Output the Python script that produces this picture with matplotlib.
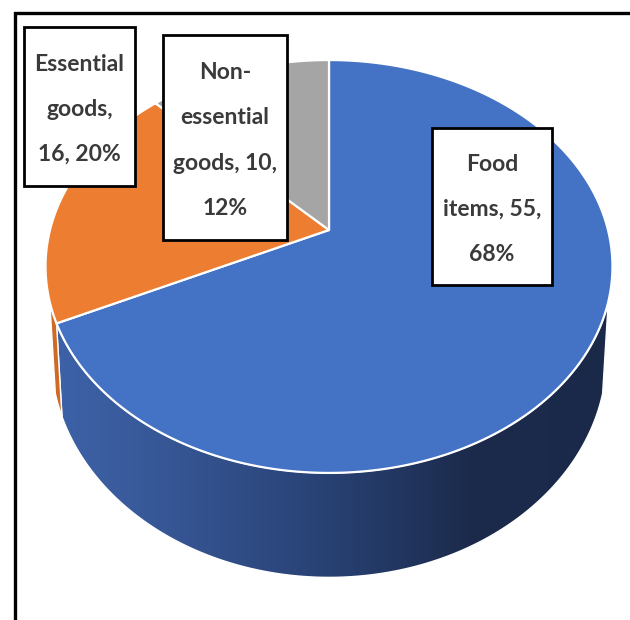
import numpy as np
import matplotlib
matplotlib.use('Agg')
import matplotlib.pyplot as plt
from matplotlib.patches import Polygon, Rectangle

categories = ['Food items', 'Essential goods', 'Non-essential goods']
counts = [55, 16, 10]
# how each data label is wrapped onto lines
label_fmt = ['Food\nitems, {v},\n{p}%',
             'Essential\ngoods,\n{v}, {p}%',
             'Non-\nessential\ngoods, {v},\n{p}%']

top_colors = ['#4472C4', '#ED7D31', '#A5A5A5']
wall_colors = [None, '#CF6A25', '#8A8A8A']

# 3d pie geometry, in pixels
CX, CY = 329, 230      # apex of the slices
A, B = 200, 279        # depth / width of the disc
K = 0.1767             # perspective
D = 86                 # thickness
WALL_V = -0.3385       # side wall shows only in front of this

# label boxes (x0, y0, x1, y1)
boxes = [(432, 128, 552, 285), (24, 27, 135, 186), (163, 35, 287, 240)]


def proj(theta, depth=0.0):
    th = np.radians(theta)
    u = np.sin(th)
    v = np.cos(th)
    w = 1 + K * v
    x = CX + B * u * (1 - 0.02 * depth) / w
    y = CY + (-A * v + D * depth) / w
    return x, y


total = sum(counts)
pcts = [int(round(100.0 * c / total)) for c in counts]
edges = np.concatenate([[0], np.cumsum(counts)]) / total * 360.0

fig = plt.figure(figsize=(6.3, 6.2), dpi=100)
ax = fig.add_axes([0, 0, 1, 1])

# side walls first
w0 = np.degrees(np.arccos(WALL_V))
w1 = 360 - w0
for i in range(len(counts)):
    a0 = max(edges[i], w0)
    a1 = min(edges[i + 1], w1)
    if a1 <= a0:
        continue
    t = np.linspace(a0, a1, 200)
    xt, yt = proj(t)
    xb, yb = proj(t[::-1], 1.0)
    pts = np.column_stack([np.concatenate([xt, xb]), np.concatenate([yt, yb])])
    if i == 0:
        wall = Polygon(pts, closed=True, facecolor='none', edgecolor='white', lw=1.0, zorder=2)
        ax.add_patch(wall)
        gx = np.linspace(40, 625, 300)
        stops_x = [40, 120, 330, 470, 625]
        stops_c = np.array([[62, 99, 170], [58, 92, 158], [40, 65, 115], [28, 43, 76], [26, 41, 72]]) / 255.0
        grad = np.stack([np.interp(gx, stops_x, stops_c[:, j]) for j in range(3)], axis=-1)[None, :, :]
        im = ax.imshow(grad, extent=(40, 625, 600, 200), aspect='auto', zorder=1, interpolation='bilinear')
        im.set_clip_path(wall)
    else:
        ax.add_patch(Polygon(pts, closed=True, facecolor=wall_colors[i], edgecolor='white', lw=1.0, zorder=2))

# top faces
for i in range(len(counts)):
    t = np.linspace(edges[i], edges[i + 1], 300)
    xt, yt = proj(t)
    pts = np.column_stack([np.concatenate([[CX], xt]), np.concatenate([[CY], yt])])
    ax.add_patch(Polygon(pts, closed=True, facecolor=top_colors[i], edgecolor='white',
                         lw=1.6, joinstyle='round', zorder=3))

# data labels
for i in range(len(counts)):
    x0, y0, x1, y1 = boxes[i]
    ax.add_patch(Rectangle((x0, y0), x1 - x0, y1 - y0, facecolor='white', edgecolor='black',
                           lw=2.0, zorder=4))
    txt = label_fmt[i].format(v=counts[i], p=pcts[i])
    ax.text((x0 + x1) / 2, (y0 + y1) / 2 + 3, txt, ha='center', va='center', color='#3a3a3a',
            fontsize=16.5, family='Lato', fontweight='bold', linespacing=2.42, zorder=5)

# frame
ax.plot([15, 15, 660], [660, 13, 13], color='black', lw=2.4, solid_joinstyle='miter', zorder=6)

ax.set_xlim(0, 630)
ax.set_ylim(620, 0)
ax.axis('off')
fig.savefig('out.png', dpi=100)
